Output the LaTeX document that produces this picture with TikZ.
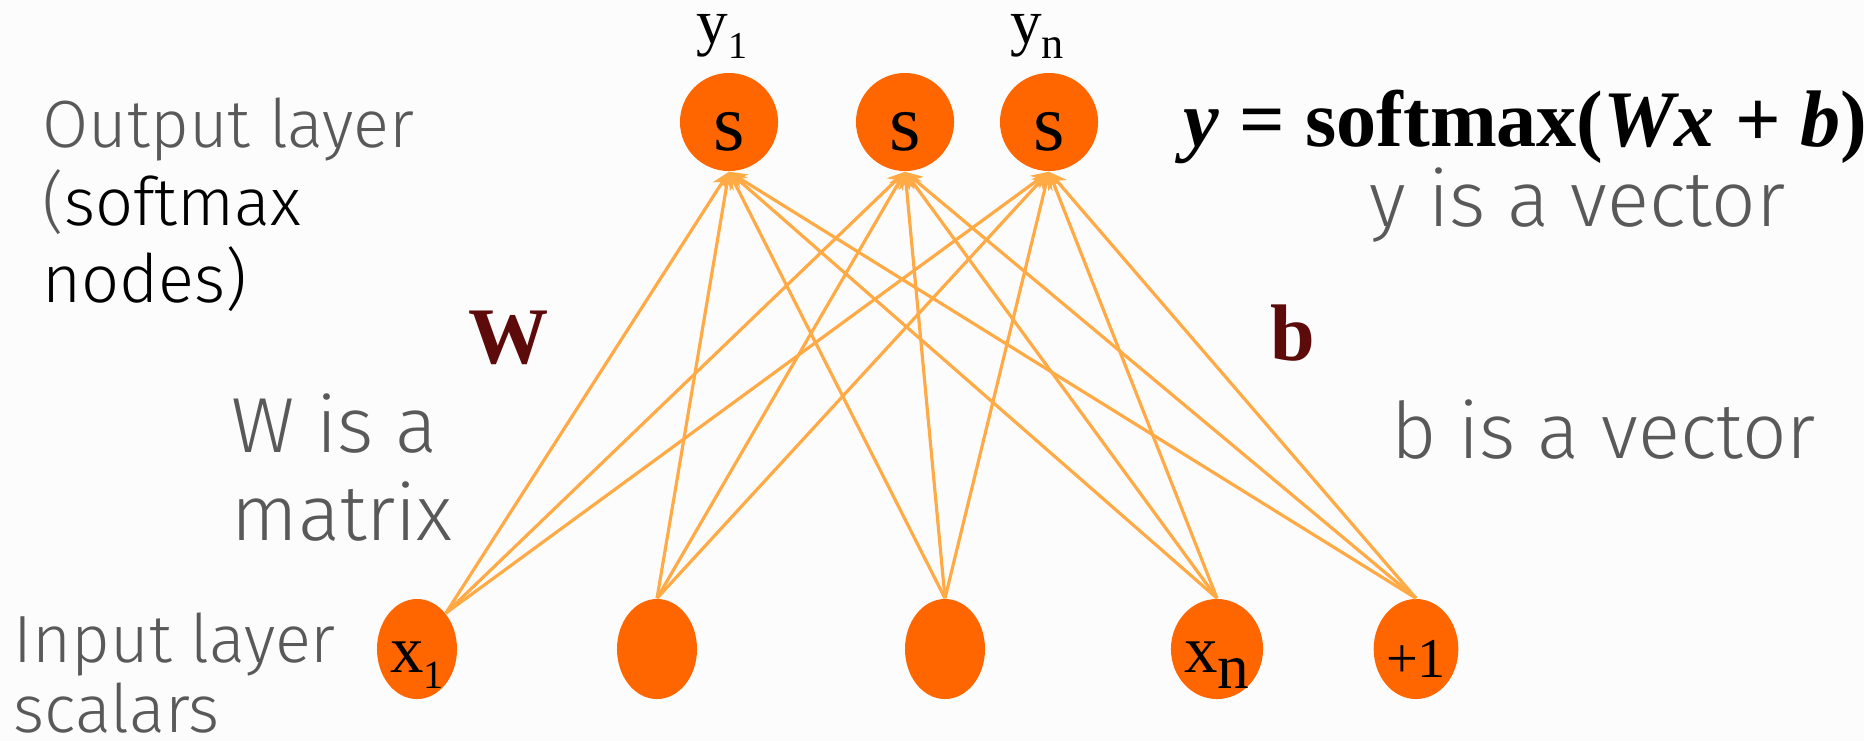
\documentclass[tikz,border=0pt]{standalone}
\usepackage{fontspec}
\setmainfont{Liberation Serif}
\newfontfamily\slidefont{Fira Sans Light}
\usepackage{xcolor}
\usepackage{tikz}
\usetikzlibrary{shapes.geometric, arrows.meta}

\definecolor{nodeorange}{HTML}{FF6600}
\definecolor{wireorange}{HTML}{FFAA44}
\definecolor{symred}{HTML}{5C0A0A}
\definecolor{slidegray}{HTML}{595959}
\definecolor{slidebg}{HTML}{FCFCFC}

% lowered index as on the slide
\newcommand{\lowsub}[2][0.6]{\raisebox{-0.25em}{\scalebox{#1}{#2}}}

\begin{document}
\begin{tikzpicture}[x=0.01cm, y=-0.01cm,
        % 1. STYLES
        % neurons (orange, no border)
        neuron/.style={fill=nodeorange, inner sep=0pt, text depth=0pt},
        outnode/.style={neuron, circle, minimum size=0.98cm, text height=0.56cm,
            font=\fontsize{23pt}{23pt}\selectfont},
        innode/.style={neuron, ellipse, minimum width=0.8cm, minimum height=1.0cm,
            text height=0.46cm, font=\fontsize{19pt}{19pt}\selectfont},
        % small y labels above the outputs
        ylab/.style={inner sep=0pt, anchor=base, font=\fontsize{18pt}{18pt}\selectfont},
        % slide text (Fira light), placed by the baseline of the last line
        note/.style={inner sep=0pt, anchor=base west, align=left, text=slidegray},
        smallnote/.style={note, font=\slidefont\fontsize{19pt}{21.9pt}\selectfont},
        bignote/.style={note, font=\slidefont\fontsize{22.2pt}{25pt}\selectfont},
        % W and b
        param/.style={inner sep=0pt, anchor=base west, text=symred,
            font=\fontsize{22.8pt}{22.8pt}\selectfont\bfseries},
        % connections
        wire/.style={line width=0.9pt, draw=wireorange, ->,
            >={Stealth[length=5pt, width=4.5pt]}}
    ]

        \fill[slidebg] (0,0) rectangle (1864,741);
        \useasboundingbox (0,0) rectangle (1864,741);

        % 2. NEURONS
        \node[outnode] (s1) at (729,122) {s};
        \node[outnode] (s2) at (905,122) {s};
        \node[outnode] (sn) at (1049,122) {s};

        \node[ylab] (y1) at (722,43) {y\lowsub{1}};
        \node[ylab] (yn) at (1037,43) {y\lowsub[0.7]{n}};

        \node[innode] (x1) at (417,649) {x\lowsub{1}};
        \node[innode] (h2) at (657,649) {};
        \node[innode] (h3) at (945,649) {};
        \node[innode] (xn) at (1217,649) {x\lowsub[0.95]{n}};
        \node[innode, font=\fontsize{16pt}{16pt}\selectfont, text height=0.56cm] (bias) at (1416,649) {+1};

        % 3. TEXT ON THE SLIDE
        \node[smallnote, text=black] (outtxt) at (42,302)
            {\color{slidegray}Output layer\\{\color{slidegray}(}softmax\\nodes)};
        \node[bignote] (wtxt) at (231,540) {W is a\\matrix};
        \node[smallnote, font=\slidefont\fontsize{19pt}{19.9pt}\selectfont] (intxt) at (13,732) {Input layer\\scalars};
        \node[bignote] (ytxt) at (1369,226) {y is a vector};
        \node[bignote] (btxt) at (1391,458) {b is a vector};

        \node[param] (wsym) at (468,363) {W};
        \node[param] (bsym) at (1270,360) {b};

        \node[inner sep=0pt, anchor=base west, font=\fontsize{22.8pt}{22.8pt}\selectfont\bfseries]
            (formula) at (1183,146) {\textit{y} = softmax(\textit{Wx} + \textit{b})};

        % 4. WEIGHTS
        \draw[wire] (x1.north east) -- (s1.south);
        \draw[wire] (x1.north east) -- (s2.south);
        \draw[wire] (x1.north east) -- (sn.south);

        \draw[wire] (h2.north) -- (s1.south);
        \draw[wire] (h2.north) -- (s2.south);
        \draw[wire] (h2.north) -- (sn.south);

        \draw[wire] (h3.north) -- (s1.south);
        \draw[wire] (h3.north) -- (s2.south);
        \draw[wire] (h3.north) -- (sn.south);

        \draw[wire] (xn.north) -- (s1.south);
        \draw[wire] (xn.north) -- (s2.south);
        \draw[wire] (xn.north) -- (sn.south);

        \draw[wire] (bias.north) -- (s1.south);
        \draw[wire] (bias.north) -- (s2.south);
        \draw[wire] (bias.north) -- (sn.south);

    \end{tikzpicture}
\end{document}
